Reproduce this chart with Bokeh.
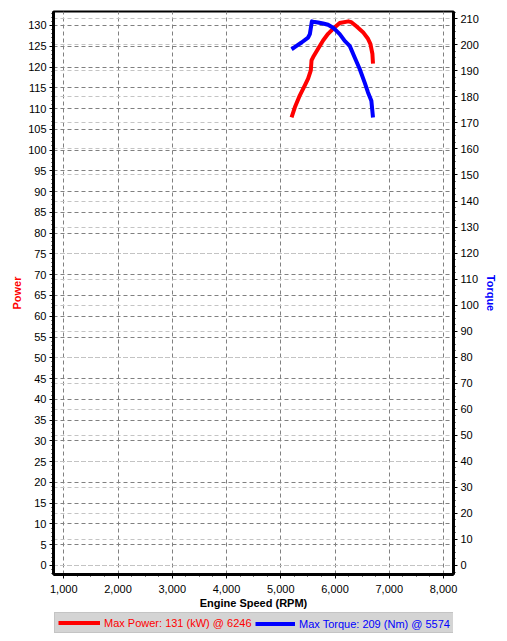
import numpy as np
from bokeh.plotting import figure
from bokeh.layouts import column
from bokeh.models import (Range1d, LinearAxis, FixedTicker, Grid, NumeralTickFormatter,
                          Legend, LegendItem)
from bokeh.embed import file_html
from bokeh.resources import INLINE

# ---- data ----
rpm_power = [5199, 5260, 5352, 5444, 5504, 5554, 5567, 5597, 5688, 5780, 5872, 5964,
             6087, 6246, 6302, 6394, 6516, 6608, 6652, 6689, 6700]
power_kw = [107.9, 110.3, 113.2, 115.6, 117.2, 119.2, 121.6, 122.4, 124.4, 126.4, 128.0,
            129.2, 130.6, 131.0, 130.8, 129.8, 128.4, 126.8, 125.6, 123.2, 120.8]

rpm_torque = [5199, 5291, 5383, 5504, 5536, 5574, 5597, 5688, 5780, 5872, 5964, 5995,
              6087, 6179, 6271, 6363, 6455, 6547, 6608, 6670, 6700]
torque_nm = [198.3, 199.6, 200.9, 202.8, 204.1, 209.0, 208.9, 208.6, 208.2, 207.7, 206.6,
             206.0, 204.1, 201.5, 199.6, 195.1, 190.7, 185.5, 181.7, 178.5, 172.1]

x_ticks = [1000, 2000, 3000, 4000, 5000, 6000, 7000, 8000]
power_ticks = list(range(0, 131, 5))
torque_ticks = list(range(0, 211, 10))
power_label = "Max Power: 131 (kW) @ 6246"
torque_label = "Max Torque: 209 (Nm) @ 5574"

FONT = "Liberation Sans"

p = figure(width=499, height=612, output_backend="svg", toolbar_location=None,
           x_range=Range1d(811, 8184), y_range=Range1d(-2.17, 133.37),
           min_border_left=53, min_border_right=45, min_border_top=11, min_border_bottom=38,
           background_fill_color="white", border_fill_color="white")
p.extra_y_ranges = {"torque": Range1d(-3.46, 212.8)}

p.outline_line_color = "black"
p.outline_line_width = 2

x_ticker = FixedTicker(ticks=x_ticks, minor_ticks=list(np.arange(750, 8300, 250)))
p_ticker = FixedTicker(ticks=power_ticks, minor_ticks=list(range(-2, 134, 1)))
t_ticker = FixedTicker(ticks=torque_ticks, minor_ticks=list(np.arange(-2.5, 213, 2.5)))

# grids
p.xgrid.ticker = x_ticker
p.ygrid.ticker = p_ticker
for g in (p.xgrid, p.ygrid):
    g.grid_line_color = "#808080"
    g.grid_line_dash = "4 3"
    g.grid_line_width = 1
tgrid = Grid(dimension=1, ticker=t_ticker, y_range_name="torque",
             grid_line_color="#c4c4c4", grid_line_dash="4 3", grid_line_width=1)
p.add_layout(tgrid)

# axes
def style_axis(ax):
    ax.axis_line_color = "black"
    ax.axis_line_width = 3
    ax.major_tick_in = 0
    ax.major_tick_out = 4
    ax.minor_tick_in = 0
    ax.minor_tick_out = 2
    ax.major_tick_line_color = "black"
    ax.minor_tick_line_color = "black"
    ax.major_label_text_font = FONT
    ax.major_label_text_font_size = "11px"
    ax.major_label_text_color = "black"
    ax.axis_label_text_font = FONT
    ax.axis_label_text_font_size = "11px"
    ax.axis_label_text_font_style = "bold"

xa = p.xaxis[0]
xa.ticker = x_ticker
xa.formatter = NumeralTickFormatter(format="0,0")
xa.axis_label = "Engine Speed (RPM)"
style_axis(xa)
xa.major_label_standoff = 6
xa.axis_label_standoff = 1
xa.axis_label_text_color = "black"

ya = p.yaxis[0]
ya.ticker = p_ticker
ya.axis_label = "Power"
style_axis(ya)
ya.major_label_standoff = 3
ya.axis_label_standoff = 2
ya.axis_label_text_color = "#ff0000"

ra = LinearAxis(y_range_name="torque", ticker=t_ticker, axis_label="Torque")
style_axis(ra)
ra.major_label_standoff = 3
ra.axis_label_standoff = 3
ra.axis_label_text_color = "#0000ff"
p.add_layout(ra, "right")

# curves
r_p = p.line(rpm_power, power_kw, line_color="#ff0000", line_width=4, line_join="round")
r_t = p.line(rpm_torque, torque_nm, line_color="#0000ff", line_width=4, line_join="round",
             y_range_name="torque")

# legend strip (separate small figure so the legend is not clipped by the main frame)
p2 = figure(width=499, height=29, output_backend="svg", toolbar_location=None,
            x_axis_type=None, y_axis_type=None, min_border=0,
            x_range=Range1d(0, 1), y_range=Range1d(0, 1),
            background_fill_color="white", border_fill_color="white")
p2.outline_line_color = None
p2.grid.visible = False
lp = p2.line(rpm_power, power_kw, line_color="#ff0000", line_width=4, visible=False)
lt = p2.line(rpm_torque, torque_nm, line_color="#0000ff", line_width=4, visible=False)

leg1 = Legend(items=[LegendItem(label=power_label, renderers=[lp])],
              location=(1, 8), padding=3, spacing=0, margin=0,
              glyph_width=42, glyph_height=13, label_height=13, label_width=346,
              label_standoff=4, label_text_font=FONT, label_text_font_size="11px",
              label_text_color="#ff0000",
              background_fill_color="#d4d4d4", background_fill_alpha=1,
              border_line_color="#b4b4b4", border_line_width=1)
leg2 = Legend(items=[LegendItem(label=torque_label, renderers=[lt])],
              location=(199, 8), padding=3, spacing=0, margin=0,
              glyph_width=40, glyph_height=13, label_height=13, label_width=20,
              label_standoff=4, label_text_font=FONT, label_text_font_size="11px",
              label_text_color="#0000ff",
              background_fill_alpha=0, border_line_alpha=0)
p2.add_layout(leg1, "center")
p2.add_layout(leg2, "center")

layout = column(p, p2, spacing=0)
open("out.html", "w").write(file_html(layout, INLINE))
